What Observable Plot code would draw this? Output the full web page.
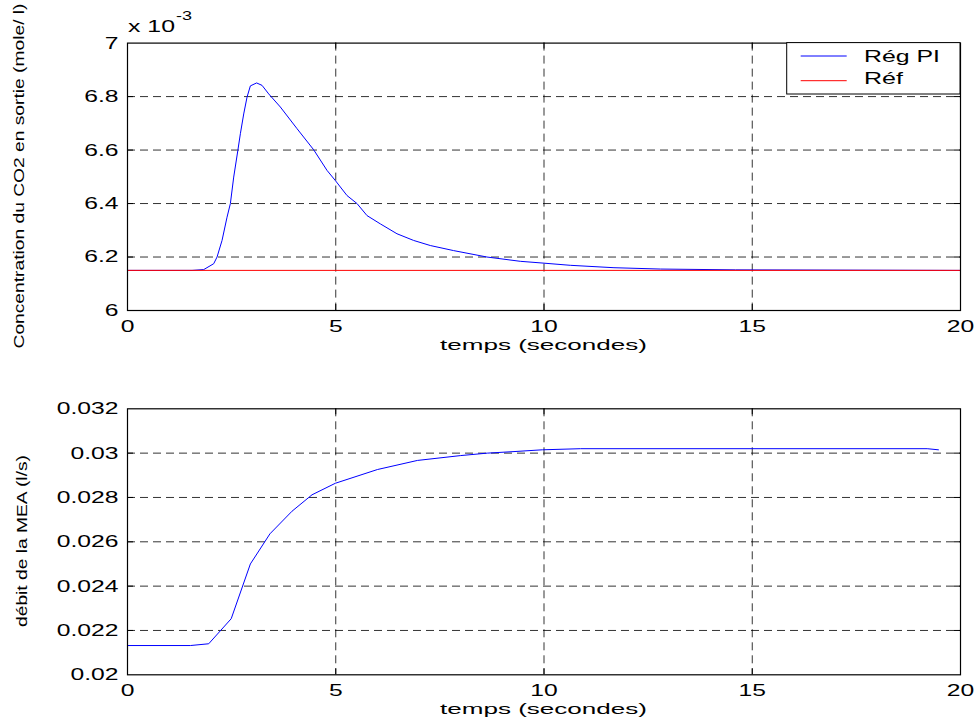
<!DOCTYPE html>
<html><head><meta charset="utf-8">
<script src="https://cdn.jsdelivr.net/npm/d3@7"></script>
<script src="https://cdn.jsdelivr.net/npm/@observablehq/plot@0.6"></script>
<style>
body{margin:0;background:#fff}
#c{position:relative;width:980px;height:726px;overflow:hidden;background:#fff}
#c svg{position:absolute;left:0}
</style>
</head><body><div id="c"></div>
<script>
// ---- data ----
const timeTop = [0, 1.55, 1.83, 2.07, 2.15, 2.27, 2.39, 2.47, 2.55, 2.65, 2.71, 2.79, 2.87, 2.95, 3.1, 3.23, 3.39, 3.67, 4.07, 4.47, 4.79, 4.99, 5.27, 5.51, 5.75, 6.07, 6.47, 6.87, 7.27, 7.83, 8.63, 9.43, 10, 10.63, 11.68, 12.8, 14.6, 20];
const co2Top = [6.15, 6.15, 6.153, 6.175, 6.2, 6.262, 6.349, 6.4, 6.499, 6.599, 6.661, 6.735, 6.798, 6.84, 6.851, 6.842, 6.81, 6.761, 6.68, 6.601, 6.524, 6.486, 6.43, 6.4, 6.355, 6.324, 6.287, 6.262, 6.243, 6.224, 6.2, 6.184, 6.177, 6.169, 6.16, 6.155, 6.152, 6.15];
const refTime = [0, 20];
const refValue = [6.15, 6.15];
const timeBot = [0, 1.51, 1.95, 2.49, 2.95, 3.42, 3.95, 4.43, 4.99, 6.0, 6.96, 8.0, 8.64, 9.28, 9.96, 10.88, 19.2, 19.47];
const flowBot = [0.02132, 0.02132, 0.0214, 0.02253, 0.025, 0.02636, 0.02738, 0.02812, 0.02864, 0.02926, 0.02967, 0.02989, 0.03, 0.03007, 0.03015, 0.0302, 0.0302, 0.03015];
const xTicks = [0, 5, 10, 15, 20];
const yTicksTop = [6, 6.2, 6.4, 6.6, 6.8, 7];
const yTicksBot = [0.02, 0.022, 0.024, 0.026, 0.028, 0.03, 0.032];
const legendLabels = ["Rég PI", "Réf"];
const legendColors = ["#0000ff", "#ff0000"];
const xLabel = "temps (secondes)";
const yLabelTop = "Concentration du CO2 en sortie (mole/ l)";
const yLabelBot = "débit de la MEA (l/s)";

const W = 980, ML = 127, MR = 20;
const top1 = timeTop.map((t, i) => ({t, v: co2Top[i]}));
const ref1 = refTime.map((t, i) => ({t, v: refValue[i]}));
const bot1 = timeBot.map((t, i) => ({t, v: flowBot[i]}));

function panel({height, mt, mb, yDomain, yTicks, fmt, lines}) {
  const yr = yDomain[1] - yDomain[0];
  const tx = 20 * 6 / (W - ML - MR);
  const ty = yr * 6 / (height - mt - mb);
  const inner = yTicks.slice(1, -1);
  const innerX = xTicks.slice(1, -1);
  return Plot.plot({
    width: W, height, marginLeft: ML, marginRight: MR, marginTop: mt, marginBottom: mb,
    style: {fontFamily: "'Liberation Sans', Arial, sans-serif", fontSize: "17px", background: "white", color: "black", overflow: "visible"},
    x: {domain: [0, 20], ticks: xTicks, tickSize: 0, tickPadding: 9, label: null, tickFormat: d => String(d)},
    y: {domain: yDomain, ticks: yTicks, tickSize: 0, tickPadding: 9, label: null, tickFormat: fmt},
    marks: [
      Plot.ruleX(innerX, {stroke: "#000", strokeOpacity: 0.8, strokeDasharray: "8,5"}),
      Plot.ruleY(inner, {stroke: "#000", strokeOpacity: 0.8, strokeDasharray: "8,5"}),
      Plot.ruleX(innerX, {y1: yDomain[0], y2: yDomain[0] + ty, stroke: "#000"}),
      Plot.ruleX(innerX, {y1: yDomain[1] - ty, y2: yDomain[1], stroke: "#000"}),
      Plot.ruleY(inner, {x1: 0, x2: tx, stroke: "#000"}),
      Plot.ruleY(inner, {x1: 20 - tx, x2: 20, stroke: "#000"}),
      ...lines.map(([data, color]) => Plot.line(data, {x: "t", y: "v", stroke: color, strokeWidth: 1})),
      Plot.frame({stroke: "#000", strokeWidth: 1.2})
    ]
  });
}

const c = document.getElementById("c");
const p1 = panel({height: 363, mt: 42.6, mb: 53, yDomain: [6, 7], yTicks: yTicksTop,
  fmt: d => String(+d.toFixed(1)), lines: [[top1, legendColors[0]], [ref1, legendColors[1]]]});
const p2 = panel({height: 363, mt: 45.3, mb: 51.7, yDomain: [0.02, 0.032], yTicks: yTicksBot,
  fmt: d => String(+d.toFixed(3)), lines: [[bot1, legendColors[0]]]});
p1.style.top = "0px"; p2.style.top = "363px";
c.appendChild(p1); c.appendChild(p2);

function stretch(svg, r) {
  svg.querySelectorAll("text").forEach(t => {
    const w = t.getComputedTextLength();
    if (w > 0) { t.setAttribute("textLength", w * r); t.setAttribute("lengthAdjust", "spacingAndGlyphs"); }
  });
}
stretch(p1, 1.45); stretch(p2, 1.45);

function addText(svg, {x, y, text, len, size = 17, anchor = "start", rotate = false}) {
  const s = d3.select(svg).append("text")
    .attr("font-family", "'Liberation Sans', Arial, sans-serif")
    .attr("font-size", size).attr("fill", "#000").attr("text-anchor", anchor)
    .text(text);
  if (rotate) s.attr("transform", `translate(${x},${y}) rotate(-90)`);
  else s.attr("x", x).attr("y", y);
  if (len) s.attr("textLength", len).attr("lengthAdjust", "spacingAndGlyphs");
  return s;
}

// axis labels
addText(p1, {x: 543.5, y: 350, text: xLabel, len: 207, size: 15, anchor: "middle"});
addText(p2, {x: 543.5, y: 714 - 363, text: xLabel, len: 207, size: 15, anchor: "middle"});
addText(p1, {x: 24, y: 176, text: yLabelTop, len: 345, size: 15, anchor: "middle", rotate: true});
addText(p2, {x: 27, y: 541 - 363, text: yLabelBot, len: 172, size: 15, anchor: "middle", rotate: true});
// multiplier
addText(p1, {x: 128, y: 32, text: "x 10", len: 47});
addText(p1, {x: 176, y: 20, text: "-3", len: 16, size: 13});

// legend
const g = d3.select(p1).append("g");
g.append("rect").attr("x", 786.7).attr("y", 42.6).attr("width", 960 - 786.7).attr("height", 94 - 42.6)
  .attr("fill", "#fff").attr("stroke", "#000").attr("stroke-width", 1);
const ly = [56, 80.7], ty = [62, 83.5];
legendLabels.forEach((lab, i) => {
  g.append("line").attr("x1", 800.7).attr("x2", 846.7).attr("y1", ly[i]).attr("y2", ly[i])
    .attr("stroke", legendColors[i]).attr("stroke-width", 1);
  const w = i === 0 ? 76 : 39;
  addText(p1, {x: 864, y: ty[i], text: lab, len: w});
});
</script>
</body></html>
